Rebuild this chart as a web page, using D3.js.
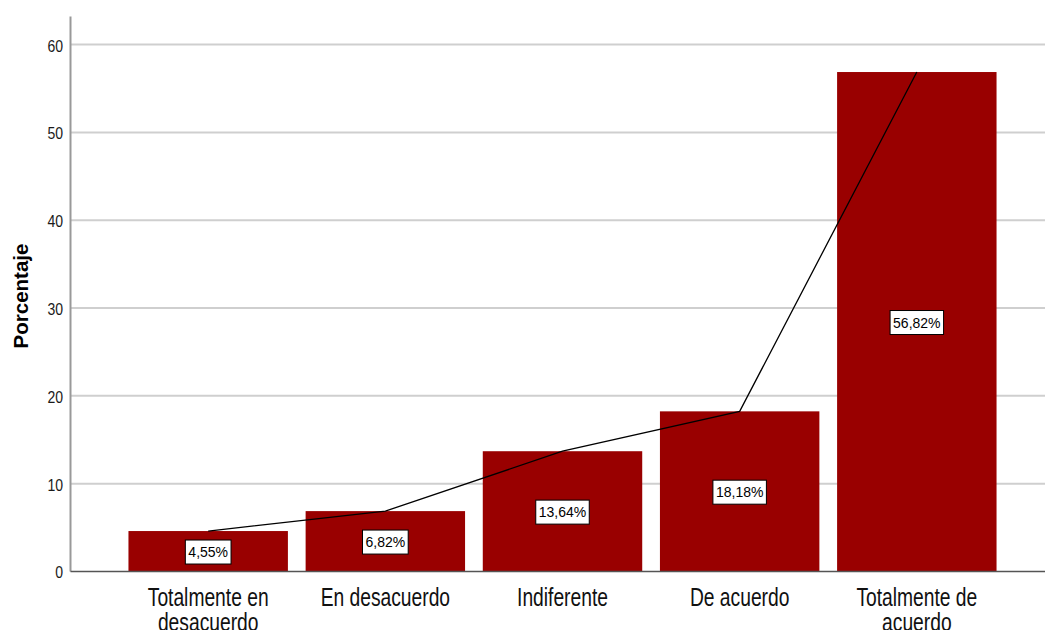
<!DOCTYPE html>
<html>
<head>
<meta charset="utf-8">
<script src="https://cdn.jsdelivr.net/npm/d3@7"></script>
<style>
  body { margin: 0; background: #fff; }
  svg { display: block; font-family: Arial, "Liberation Sans", sans-serif; }
</style>
</head>
<body>
<svg></svg>
<script>
var categories = ["Totalmente en desacuerdo", "En desacuerdo", "Indiferente", "De acuerdo", "Totalmente de acuerdo"];
var percents = [4.55, 6.82, 13.64, 18.18, 56.82];
var percentLabels = ["4,55%", "6,82%", "13,64%", "18,18%", "56,82%"];
var yTicks = [0, 10, 20, 30, 40, 50, 60];

var width = 1045;
var height = 630;
var plotLeft = 70, plotRight = 1055, plotTop = 16, plotBottom = 571;

var svg = d3.select('svg')
    .attr('width', width)
    .attr('height', height);

var xScale = d3.scaleBand()
    .domain(categories)
    .range([plotLeft, plotRight])
    .paddingInner(0.1)
    .paddingOuter(0.33);

var yScale = d3.scaleLinear()
    .domain([0, 63.2])
    .range([plotBottom, plotTop]);

// gridlines
var grid = svg.append('g')
    .attr('transform', 'translate(' + plotLeft + ',0)')
    .call(d3.axisLeft(yScale).tickValues(yTicks.slice(1)).tickSize(-(width - plotLeft)).tickFormat(''));
grid.select('.domain').remove();
grid.selectAll('line').attr('stroke', '#cfcfcf').attr('stroke-width', 2);

// y axis
var yAxis = svg.append('g')
    .attr('transform', 'translate(' + plotLeft + ',0)')
    .call(d3.axisLeft(yScale).tickValues(yTicks).tickSize(0).tickFormat(d3.format('d')));
yAxis.select('.domain').attr('stroke', '#999').attr('stroke-width', 2);
yAxis.selectAll('text')
    .attr('x', 0)
    .attr('dy', '0.6em')
    .attr('y', -3)
    .attr('transform', 'translate(-7,0) scale(0.85,1)')
    .style('font-size', '16.5px')
    .attr('fill', '#1a1a1a');

// bars
svg.selectAll('rect.bar')
    .data(percents)
    .enter()
    .append('rect')
    .attr('class', 'bar')
    .attr('x', (d, i) => xScale(categories[i]))
    .attr('y', d => yScale(d))
    .attr('width', xScale.bandwidth())
    .attr('height', d => yScale(0) - yScale(d))
    .attr('fill', '#990000');

// x axis
var xAxis = svg.append('g')
    .attr('transform', 'translate(0,' + plotBottom + ')')
    .call(d3.axisBottom(xScale).tickSize(0));
xAxis.select('.domain').attr('stroke', '#555').attr('stroke-width', 1.5);
xAxis.selectAll('text')
    .style('font-size', '25px')
    .attr('fill', '#111')
    .attr('y', 0)
    .attr('dy', 0)
    .attr('transform', 'scale(0.77,1)')
    .call(wrap, 230);

// connecting line
var line = d3.line()
    .x((d, i) => xScale(categories[i]) + xScale.bandwidth() / 2)
    .y(d => yScale(d));

svg.append('path')
    .datum(percents)
    .attr('d', line)
    .attr('fill', 'none')
    .attr('stroke', '#000')
    .attr('stroke-width', 1.3);

// value labels
var labels = svg.selectAll('g.lab')
    .data(percents)
    .enter()
    .append('g')
    .attr('class', 'lab')
    .attr('transform', (d, i) => 'translate(' + (xScale(categories[i]) + xScale.bandwidth() / 2) + ',' + (yScale(d / 2) + 1) + ')');

labels.append('rect');
labels.append('text')
    .attr('text-anchor', 'middle')
    .attr('dy', '0.36em')
    .style('font-size', '14px')
    .attr('fill', '#000')
    .text((d, i) => percentLabels[i]);

labels.each(function() {
  var g = d3.select(this);
  var w = g.select('text').node().getComputedTextLength();
  g.select('rect')
    .attr('x', -w / 2 - 3)
    .attr('y', -12)
    .attr('width', w + 6)
    .attr('height', 24)
    .attr('fill', '#fff')
    .attr('stroke', '#000')
    .attr('stroke-width', 1);
});

// y title
svg.append('text')
    .attr('transform', 'translate(28,' + 296 + ') rotate(-90)')
    .attr('text-anchor', 'middle')
    .style('font-size', '20.5px')
    .style('font-weight', 'bold')
    .attr('fill', '#000')
    .text('Porcentaje');

function wrap(texts, maxWidth) {
  texts.each(function() {
    var text = d3.select(this);
    var words = text.text().split(/\s+/);
    text.text(null);
    var lines = [];
    var current = [];
    var probe = text.append('tspan');
    words.forEach(function(w) {
      current.push(w);
      probe.text(current.join(' '));
      if (probe.node().getComputedTextLength() > maxWidth && current.length > 1) {
        current.pop();
        lines.push(current.join(' '));
        current = [w];
      }
    });
    lines.push(current.join(' '));
    probe.remove();
    lines.forEach(function(l, i) {
      text.append('tspan')
        .attr('x', 0)
        .attr('y', 35 + i * 25)
        .text(l);
    });
  });
}
</script>
</body>
</html>
